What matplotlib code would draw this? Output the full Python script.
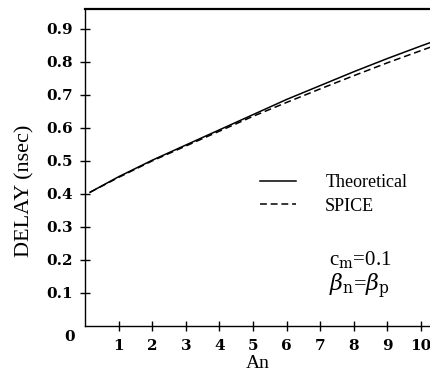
import matplotlib.pyplot as plt

# Delay vs An
an = [0.15, 1, 2, 3, 4, 5, 6, 7, 8, 9, 10, 10.3]
delay_theory = [0.405, 0.452, 0.502, 0.548, 0.594, 0.640, 0.686, 0.728, 0.770, 0.810, 0.848, 0.859]
delay_spice = [0.405, 0.450, 0.500, 0.545, 0.590, 0.635, 0.677, 0.718, 0.758, 0.797, 0.834, 0.845]

xticks = [1, 2, 3, 4, 5, 6, 7, 8, 9, 10]
yticks = [0.1, 0.2, 0.3, 0.4, 0.5, 0.6, 0.7, 0.8, 0.9]

plt.rcParams['font.family'] = ['Liberation Serif', 'DejaVu Serif']
plt.rcParams['mathtext.fontset'] = 'dejavuserif'

H = 377
fig = plt.figure(figsize=(4.3, 3.77), dpi=100)
ax = fig.add_axes([85 / 430, 51 / H, 345 / 430, 317 / H])

ax.plot(an, delay_theory, color='black', lw=1.1, label='Theoretical')
ax.plot(an, delay_spice, color='black', lw=1.1, ls=(0, (4.5, 2.5)), label='SPICE')

ax.set_xlim(0, 10.27)
ax.set_ylim(0, 0.96)
ax.set_xticks(xticks)
ax.set_yticks(yticks)
tick_font = dict(family='DejaVu Serif', fontsize=11, fontweight='bold')
ax.set_xticklabels([str(t) for t in xticks], **tick_font)
ax.set_yticklabels([f"{t:.1f}" for t in yticks], **tick_font)
ax.tick_params(direction='inout', length=7, width=1, pad=6)
ax.tick_params(axis='y', pad=5)

ax.spines['right'].set_visible(False)
ax.spines['top'].set_linewidth(1.6)
ax.spines['left'].set_linewidth(1.0)
ax.spines['bottom'].set_linewidth(1.0)

# lone "0" at the origin corner
ax.text(-0.3, -0.012, '0', transform=ax.transData, ha='right', va='top', **tick_font)

ax.set_xlabel('An', fontsize=14, labelpad=1)
ax.set_ylabel('DELAY (nsec)', fontsize=16)
ax.yaxis.set_label_coords(-0.145, 0.426)

ax.legend(loc='upper left', bbox_to_anchor=(244 / 430, 1 - 158 / H),
          bbox_transform=fig.transFigure, frameon=False, fontsize=13,
          handlelength=2.0, handletextpad=1.6, labelspacing=0.35)

ax.text(329, H - 260, r'c$_\mathrm{m}$=0.1', transform=None, fontsize=15,
        va='center')
ax.text(329, H - 286, r'$\beta_\mathrm{n}$=$\beta_\mathrm{p}$', transform=None,
        fontsize=16, va='center')

fig.savefig('out.png', dpi=100)
